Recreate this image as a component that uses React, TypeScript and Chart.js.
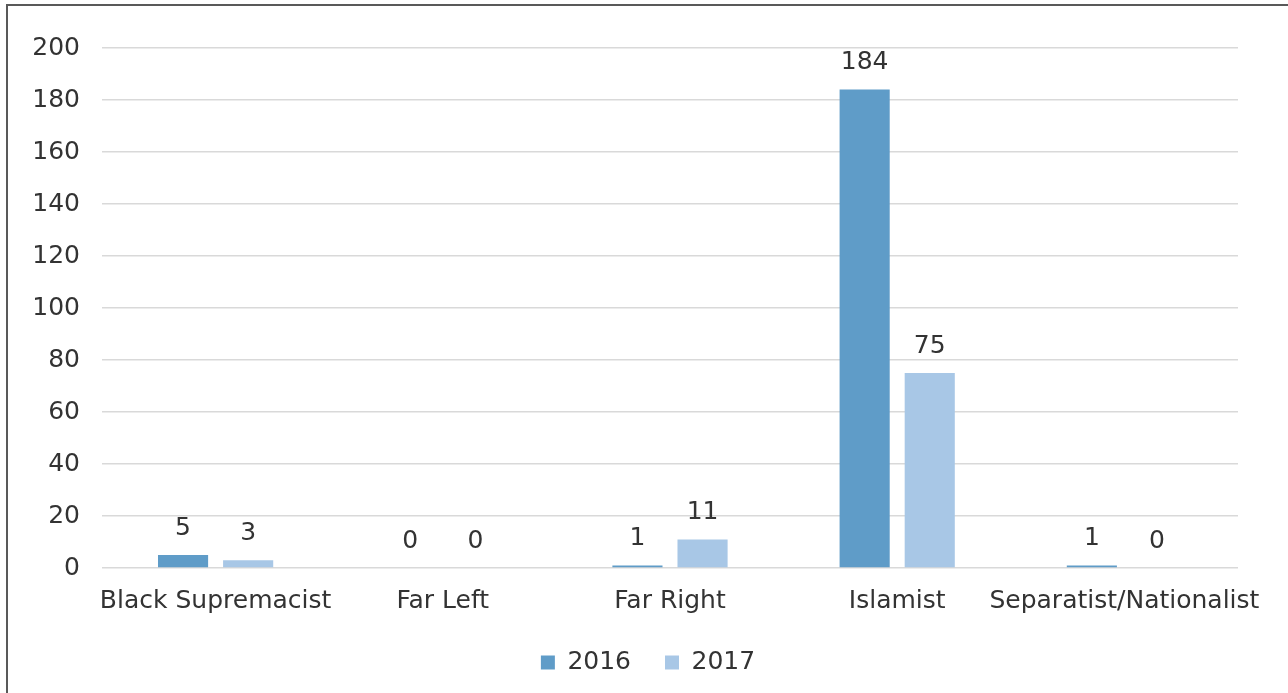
import React, { useEffect, useRef } from "react";
import { Chart, registerables } from "chart.js";

Chart.register(...registerables);

const categories = ["Black Supremacist", "Far Left", "Far Right", "Islamist", "Separatist/Nationalist"];
const series2016 = [5, 0, 1, 184, 1];
const series2017 = [3, 0, 11, 75, 0];
const seriesNames = ["2016", "2017"];
const yTicks = [0, 20, 40, 60, 80, 100, 120, 140, 160, 180, 200];

const FONT = "'DejaVu Sans', sans-serif";
const FS = 25;

const labelPlugin = {
  id: "barLabels",
  afterDatasetsDraw(chart: any) {
    const ctx = chart.ctx;
    ctx.save();
    ctx.font = `${FS}px ${FONT}`;
    ctx.fillStyle = "#333333";
    ctx.textAlign = "center";
    ctx.textBaseline = "middle";
    chart.data.datasets.forEach((ds: any, di: number) => {
      const meta = chart.getDatasetMeta(di);
      meta.data.forEach((el: any, i: number) => {
        ctx.fillText(String(ds.data[i]), el.x, el.y - 27);
      });
    });
    ctx.restore();
  },
};

export default function App() {
  const ref = useRef<HTMLCanvasElement | null>(null);
  useEffect(() => {
    if (!ref.current) return;
    const chart = new Chart(ref.current, {
      type: "bar",
      data: {
        labels: categories,
        datasets: [
          { label: seriesNames[0], data: series2016, backgroundColor: "#5f9cc8", categoryPercentage: 0.573, barPercentage: 0.77, yAxisID: "y" },
          { label: seriesNames[1], data: series2017, backgroundColor: "#a8c7e6", categoryPercentage: 0.573, barPercentage: 0.77, yAxisID: "y" },
        ],
      },
      options: {
        animation: false,
        responsive: true,
        maintainAspectRatio: false,
        layout: { padding: { top: 42, right: 0, bottom: 8, left: 0 } },
        plugins: {
          legend: {
            position: "bottom",
            labels: {
              boxWidth: 14,
              boxHeight: 14,
              padding: 34,
              color: "#333333",
              font: { family: FONT, size: FS },
            },
          },
          tooltip: { enabled: false },
        },
        scales: {
          x: {
            grid: { display: false, drawTicks: false },
            border: { display: false },
            ticks: { color: "#333333", font: { family: FONT, size: FS }, padding: 18, maxRotation: 0, autoSkip: false },
            afterFit: (axis: any) => {
              axis.height = 48;
            },
          },
          y: {
            min: 0,
            max: 200,
            afterBuildTicks: (axis: any) => {
              axis.ticks = yTicks.map((v) => ({ value: v }));
            },
            afterFit: (axis: any) => {
              axis.width = 94;
            },
            grid: { color: "#d9d9d9", lineWidth: 1.5, drawTicks: false },
            border: { display: false },
            ticks: { color: "#333333", font: { family: FONT, size: FS }, padding: 22 },
          },
          y2: {
            position: "right",
            min: 0,
            max: 200,
            grid: { display: false, drawTicks: false },
            border: { display: false },
            ticks: { display: false },
            afterFit: (axis: any) => {
              axis.width = 50;
            },
          },
        },
      },
      plugins: [labelPlugin],
    });
    return () => chart.destroy();
  }, []);

  return (
    <div style={{ position: "fixed", left: 0, top: 0, width: 1288, height: 693, background: "#ffffff", overflow: "hidden" }}>
      <div
        style={{
          position: "absolute",
          left: 6,
          top: 4,
          width: 1290,
          height: 700,
          borderTop: "2px solid #595959",
          borderLeft: "2px solid #595959",
        }}
      />
      <div style={{ position: "absolute", left: 8, top: 6, width: 1280, height: 687 }}>
        <canvas ref={ref} />
      </div>
    </div>
  );
}
